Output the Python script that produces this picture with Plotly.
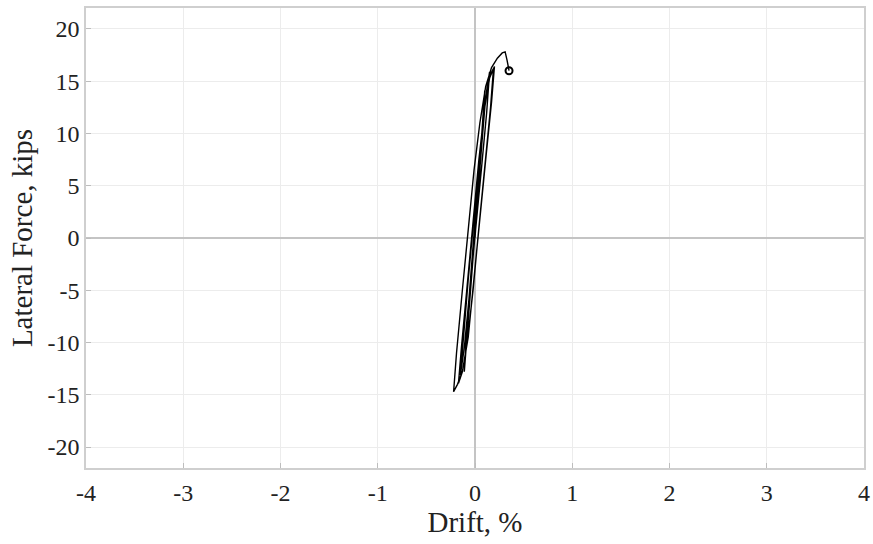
import plotly.graph_objects as go

drift = [0.00, 0.04, 0.08, 0.10,
         0.07, 0.02, -0.03, -0.08, -0.11,
         -0.08, -0.03, 0.02, 0.07, 0.11, 0.15,
         0.12, 0.07, 0.01, -0.05, -0.11, -0.15,
         -0.12, -0.07, -0.01, 0.05, 0.10, 0.15, 0.19,
         0.16, 0.10, 0.04, -0.02, -0.08, -0.13, -0.17,
         -0.14, -0.08, -0.02, 0.04, 0.10, 0.15, 0.20,
         0.17, 0.11, 0.05, -0.01, -0.07, -0.13, -0.18, -0.22,
         -0.19, -0.13, -0.07, -0.01, 0.05, 0.11, 0.17, 0.23, 0.28, 0.31, 0.33, 0.35]
force = [0, 5, 11, 14.1,
         10, 4, -2, -8, -12.8,
         -9, -3, 3, 9, 13.5, 15.9,
         12, 7, 1, -5, -10.5, -13.1,
         -9.5, -4, 2, 8, 13, 15.5, 16.2,
         12.5, 7, 1, -5, -10, -12.8, -13.9,
         -10.5, -4.5, 1.5, 7.5, 12.5, 15.3, 16.4,
         13, 7.5, 2, -4, -9.5, -12.8, -14.0, -14.7,
         -11, -5, 1, 6.5, 11, 14.5, 16.3, 17.2, 17.7, 17.8, 17.0, 16.0]

x_ticks = [-4, -3, -2, -1, 0, 1, 2, 3, 4]
y_ticks = [-20, -15, -10, -5, 0, 5, 10, 15, 20]

fig = go.Figure()
fig.add_trace(go.Scatter(x=drift, y=force, mode="lines",
                         line=dict(color="black", width=1.4), showlegend=False))
fig.add_trace(go.Scatter(x=[drift[-1]], y=[force[-1]], mode="markers",
                         marker=dict(symbol="circle-open", size=7, color="black",
                                     line=dict(width=2, color="black")),
                         showlegend=False))

tick_font = dict(family="Liberation Serif", size=24, color="#222222")
title_font = dict(family="Liberation Serif", size=29, color="#222222")
fig.update_layout(
    width=873, height=544,
    margin=dict(l=86, r=9, t=8, b=76, autoexpand=False),
    paper_bgcolor="white", plot_bgcolor="white",
    font=tick_font,
    xaxis=dict(range=[-4, 4], tickvals=x_ticks, ticktext=[str(v) for v in x_ticks],
               showgrid=True, gridcolor="#ececec", gridwidth=1,
               zeroline=True, zerolinecolor="#c4c4c4", zerolinewidth=1.5,
               showline=True, linecolor="#cfcfcf", linewidth=1.5, mirror=True,
               ticks="inside", ticklen=5, tickcolor="#bdbdbd",
               tickfont=tick_font, ticklabelstandoff=2,
               title=dict(text="Drift, %", font=title_font, standoff=7)),
    yaxis=dict(range=[-22, 22], tickvals=y_ticks, ticktext=[str(v) for v in y_ticks],
               showgrid=True, gridcolor="#ececec", gridwidth=1,
               zeroline=True, zerolinecolor="#c4c4c4", zerolinewidth=1.5,
               showline=True, linecolor="#cfcfcf", linewidth=1.5, mirror=True,
               ticks="inside", ticklen=5, tickcolor="#bdbdbd",
               tickfont=tick_font,
               title=dict(text="Lateral Force, kips", font=title_font, standoff=6)),
)
fig.write_html("out.html", config={"displayModeBar": False},
               post_script="document.body.style.margin='0';document.body.style.overflow='hidden';")
